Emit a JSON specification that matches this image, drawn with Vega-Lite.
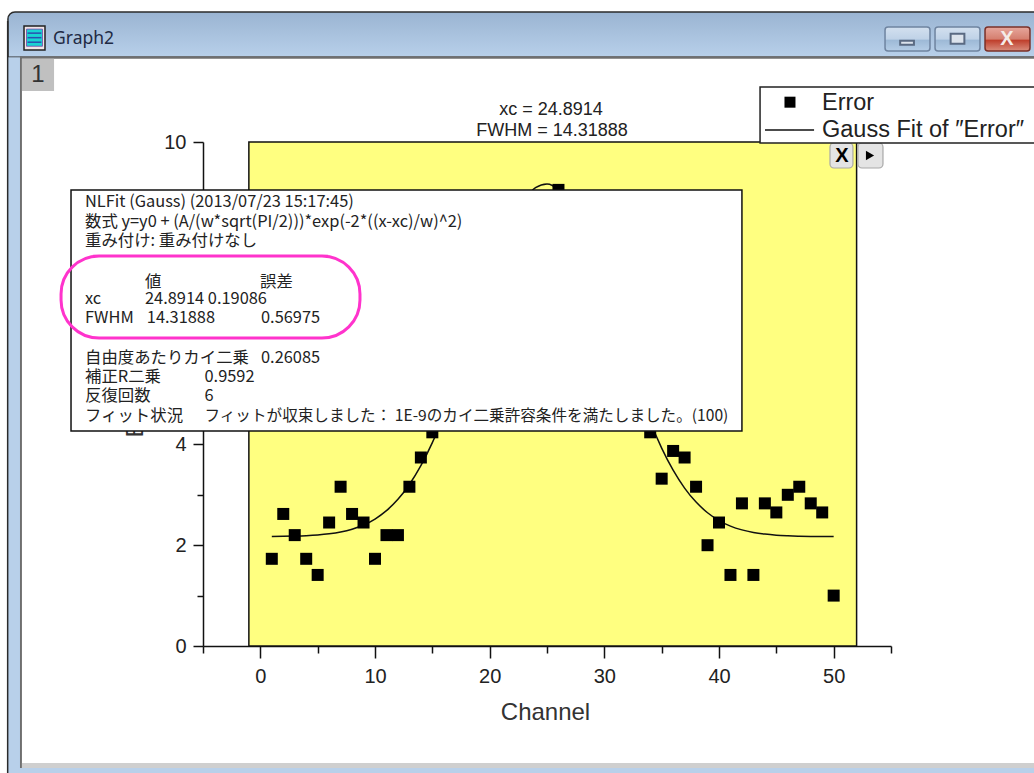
{
"$schema":"https://vega.github.io/schema/vega-lite/v6.json",
"width":688,"height":504,
"autosize":{"type":"none"},
"padding":{"left":203,"top":142,"right":143,"bottom":127},
"background":"white",
"config":{"view":{"stroke":null}},
"encoding":{
 "x":{"field":"x","type":"quantitative","scale":{"domain":[-5,55],"nice":false,"zero":false},
  "axis":{"title":"Channel","grid":false,"values":[-5,0,5,10,15,20,25,30,35,40,45,50,55],
   "labelExpr":"datum.value % 10 === 0 ? datum.label : ''","labelOverlap":false,"labelFlush":false,
   "tickSize":{"condition":{"test":"datum.value % 10 === 0","value":12},"value":7},
   "tickColor":"#111","tickWidth":1.5,"domainColor":"#111","domainWidth":1.5,
   "labelFont":"Liberation Sans","labelFontSize":20,"labelColor":"#222","labelPadding":8,
   "titleFont":"Liberation Sans","titleFontSize":24,"titleFontWeight":"normal","titleColor":"#333","titleX":342,"titleY":66,"titleBaseline":"middle"}},
 "y":{"field":"y","type":"quantitative","scale":{"domain":[0,10],"nice":false,"zero":false},
  "axis":{"title":"Error","grid":false,"values":[0,1,2,3,4,5,6,7,8,9,10],
   "labelExpr":"datum.value % 2 === 0 ? datum.label : ''","labelOverlap":false,"labelFlush":false,
   "tickSize":{"condition":{"test":"datum.value % 2 === 0","value":10},"value":6},
   "tickColor":"#111","tickWidth":1.5,"domainColor":"#111","domainWidth":1.5,
   "labelFont":"Liberation Sans","labelFontSize":20,"labelColor":"#222","labelPadding":7,
   "titleFont":"Liberation Sans","titleFontSize":24,"titleFontWeight":"normal","titleColor":"#333",
   "titleAngle":270,"titleAlign":"left","titleBaseline":"middle","titleX":-68,"titleY":295}}
},
"layer":[
 {"data":{"values":[{"x":-22.01,"x2":68,"y":12.58,"y2":11.68}]},
  "mark":{"type":"rect","stroke":"#2b2b2b","strokeWidth":1.5,"cornerRadiusTopLeft":7,
   "fill":{"gradient":"linear","x1":0,"y1":0,"x2":0,"y2":1,"stops":[{"offset":0,"color":"#9AB4D2"},{"offset":1,"color":"#B8D0EA"}]}},
  "encoding":{"x2":{"field":"x2"},"y2":{"field":"y2"}}},
 {"data":{"values":[{"x":-22.01,"x2":-20.96,"y":11.68,"y2":-2.6},{"x":-22.01,"x2":68,"y":-2.42,"y2":-2.6}]},
  "mark":{"type":"rect","fill":"#B8D0EA"},"encoding":{"x2":{"field":"x2"},"y2":{"field":"y2"}}},
 {"data":{"values":[{"x":-22.1,"x2":-21.97,"y":12.4,"y2":-2.6}]},
  "mark":{"type":"rect","fill":"#2b2b2b"},"encoding":{"x2":{"field":"x2"},"y2":{"field":"y2"}}},
 {"data":{"values":[{"x":-20.96,"x2":-20.79,"y":11.7,"y2":-2.42},{"x":-20.96,"x2":68,"y":11.7,"y2":11.65}]},
  "mark":{"type":"rect","fill":"#6f6f6f"},"encoding":{"x2":{"field":"x2"},"y2":{"field":"y2"}}},
 {"data":{"values":[{"x":-20.79,"x2":68,"y":-2.32,"y2":-2.42}]},
  "mark":{"type":"rect","fill":"#cfcfcf"},"encoding":{"x2":{"field":"x2"},"y2":{"field":"y2"}}},
 {"data":{"values":[{"x":-20.79,"x2":-17.99,"y":11.65,"y2":11.01}]},
  "mark":{"type":"rect","fill":"#C0C0C0"},"encoding":{"x2":{"field":"x2"},"y2":{"field":"y2"}}},
 {"data":{"values":[{"x":-19.39,"y":11.33,"t":"1"}]},
  "mark":{"type":"text","font":"Liberation Sans","fontSize":24,"color":"#333","align":"center","baseline":"middle"},
  "encoding":{"text":{"field":"t"}}},
 {"data":{"values":[{"x":-20.61,"x2":-18.78,"y":12.3,"y2":11.825}]},
  "mark":{"type":"rect","fill":"#efe6e6","stroke":"#222","strokeWidth":1.5},"encoding":{"x2":{"field":"x2"},"y2":{"field":"y2"}}},
 {"data":{"values":[{"x":-20.39,"x2":-19.0,"y":12.24,"y2":11.9}]},
  "mark":{"type":"rect","fill":"#19d3d3","stroke":"#7a3ea8","strokeWidth":0.8},"encoding":{"x2":{"field":"x2"},"y2":{"field":"y2"}}},
 {"data":{"values":[{"x":-20.3,"x2":-19.1,"y":12.16},{"x":-20.3,"x2":-19.1,"y":12.07},{"x":-20.3,"x2":-19.1,"y":11.98}]},
  "mark":{"type":"rule","stroke":"#2a4fb0","strokeWidth":1.5},"encoding":{"x2":{"field":"x2"}}},
 {"data":{"values":[{"x":-18.08,"y":12.04,"t":"Graph2"}]},
  "mark":{"type":"text","font":"Noto Sans","fontSize":17.5,"color":"#1f2a44","align":"left","baseline":"middle"},
  "encoding":{"text":{"field":"t"}}},
 {"data":{"values":[{"x":54.48,"x2":58.4,"y":12.28,"y2":11.805},{"x":58.84,"x2":62.76,"y":12.28,"y2":11.805}]},
  "mark":{"type":"rect","stroke":"#6f84a0","strokeWidth":1.5,"cornerRadius":3,
   "fill":{"gradient":"linear","x1":0,"y1":0,"x2":0,"y2":1,"stops":[{"offset":0,"color":"#D3E0EF"},{"offset":0.5,"color":"#BFD2E7"},{"offset":0.55,"color":"#9DB9D6"},{"offset":1,"color":"#B5CDE6"}]}},
  "encoding":{"x2":{"field":"x2"},"y2":{"field":"y2"}}},
 {"data":{"values":[{"x":63.2,"x2":67.12,"y":12.28,"y2":11.805}]},
  "mark":{"type":"rect","stroke":"#7a3028","strokeWidth":1.5,"cornerRadius":3,
   "fill":{"gradient":"linear","x1":0,"y1":0,"x2":0,"y2":1,"stops":[{"offset":0,"color":"#E6A79D"},{"offset":0.5,"color":"#D57F6F"},{"offset":0.55,"color":"#BF3F2C"},{"offset":1,"color":"#D98E7E"}]}},
  "encoding":{"x2":{"field":"x2"},"y2":{"field":"y2"}}},
 {"data":{"values":[{"x":55.8,"x2":57.0,"y":12.01,"y2":11.93},{"x":60.2,"x2":61.4,"y":12.15,"y2":11.95}]},
  "mark":{"type":"rect","fill":"#DCE3EC","stroke":"#5a6a82","strokeWidth":2},"encoding":{"x2":{"field":"x2"},"y2":{"field":"y2"}}},
 {"data":{"values":[{"x":65.12,"y":12.04,"t":"X"}]},
  "mark":{"type":"text","font":"Liberation Sans","fontSize":20,"fontWeight":"bold","color":"#F4ECE8","align":"center","baseline":"middle"},
  "encoding":{"text":{"field":"t"}}},
 {"data":{"values":[{"x":25.35,"y":10.635,"t":"xc = 24.8914"},{"x":25.44,"y":10.22,"t":"FWHM = 14.31888"}]},
  "mark":{"type":"text","font":"Liberation Sans","fontSize":18,"color":"#222","align":"center","baseline":"middle"},
  "encoding":{"text":{"field":"t"}}},
 {"data":{"values":[{"x":-1,"x2":52,"y":10,"y2":0}]},
  "mark":{"type":"rect","fill":"#FFFF80","stroke":"#111","strokeWidth":1.5},"encoding":{"x2":{"field":"x2"},"y2":{"field":"y2"}}},
 {"data":{"values":[
  {"x":1,"y":2.173},{"x":2,"y":2.176},{"x":3,"y":2.181},{"x":4,"y":2.189},{"x":5,"y":2.203},{"x":6,"y":2.226},{"x":7,"y":2.262},{"x":8,"y":2.318},{"x":9,"y":2.4},{"x":10,"y":2.519},
  {"x":11,"y":2.685},{"x":12,"y":2.91},{"x":13,"y":3.205},{"x":14,"y":3.577},{"x":15,"y":4.034},{"x":16,"y":4.574},{"x":17,"y":5.186},{"x":18,"y":5.853},{"x":19,"y":6.549},{"x":20,"y":7.236},
  {"x":21,"y":7.874},{"x":22,"y":8.422},{"x":23,"y":8.84},{"x":24,"y":9.095},{"x":25,"y":9.169},{"x":26,"y":9.054},{"x":27,"y":8.761},{"x":28,"y":8.312},{"x":29,"y":7.741},{"x":30,"y":7.087},
  {"x":31,"y":6.395},{"x":32,"y":5.703},{"x":33,"y":5.046},{"x":34,"y":4.448},{"x":35,"y":3.927},{"x":36,"y":3.488},{"x":37,"y":3.133},{"x":38,"y":2.855},{"x":39,"y":2.644},{"x":40,"y":2.489},
  {"x":41,"y":2.379},{"x":42,"y":2.304},{"x":43,"y":2.253},{"x":44,"y":2.22},{"x":45,"y":2.199},{"x":46,"y":2.187},{"x":47,"y":2.179},{"x":48,"y":2.175},{"x":49,"y":2.173},{"x":50,"y":2.171}]},
  "mark":{"type":"line","stroke":"#111","strokeWidth":1.5,"interpolate":"monotone"}},
 {"data":{"values":[
  {"x":1,"y":1.73},{"x":2,"y":2.62},{"x":3,"y":2.2},{"x":4,"y":1.73},{"x":5,"y":1.41},{"x":6,"y":2.45},{"x":7,"y":3.16},{"x":8,"y":2.62},{"x":9,"y":2.45},{"x":10,"y":1.73},
  {"x":11,"y":2.2},{"x":12,"y":2.2},{"x":13,"y":3.16},{"x":14,"y":3.74},{"x":15,"y":4.24},{"x":16,"y":4.8},{"x":17,"y":5.2},{"x":18,"y":5.8},{"x":19,"y":6.6},{"x":20,"y":7.3},
  {"x":21,"y":7.7},{"x":22,"y":8.2},{"x":23,"y":8.5},{"x":24,"y":8.6},{"x":25,"y":8.6},{"x":26,"y":9.05},{"x":27,"y":8.5},{"x":28,"y":8.2},{"x":29,"y":7.7},{"x":30,"y":7.1},
  {"x":31,"y":6.4},{"x":32,"y":5.7},{"x":33,"y":5.0},{"x":34,"y":4.24},{"x":35,"y":3.32},{"x":36,"y":3.87},{"x":37,"y":3.74},{"x":38,"y":3.16},{"x":39,"y":2.0},{"x":40,"y":2.45},
  {"x":41,"y":1.41},{"x":42,"y":2.83},{"x":43,"y":1.41},{"x":44,"y":2.83},{"x":45,"y":2.65},{"x":46,"y":3.0},{"x":47,"y":3.16},{"x":48,"y":2.83},{"x":49,"y":2.65},{"x":50,"y":1.0}]},
  "mark":{"type":"point","shape":"square","filled":true,"size":144,"color":"#000","opacity":1}},
 {"data":{"values":[{"x":-16.51,"x2":42,"y":9.048,"y2":4.266}]},
  "mark":{"type":"rect","fill":"white","stroke":"#111","strokeWidth":1.5},"encoding":{"x2":{"field":"x2"},"y2":{"field":"y2"}}},
 {"data":{"values":[
  {"x":-15.29,"y":8.81,"t":"NLFit (Gauss) (2013/07/23 15:17:45)"},
  {"x":-15.29,"y":8.41,"t":"数式 y=y0 + (A/(w*sqrt(PI/2)))*exp(-2*((x-xc)/w)^2)"},
  {"x":-15.29,"y":8.03,"t":"重み付け: 重み付けなし"},
  {"x":-10.06,"y":7.22,"t":"値"},
  {"x":-0.03,"y":7.22,"t":"誤差"},
  {"x":-15.29,"y":6.885,"t":"xc"},
  {"x":-10.06,"y":6.885,"t":"24.8914 0.19086"},
  {"x":-15.29,"y":6.51,"t":"FWHM"},
  {"x":-9.9,"y":6.51,"t":"14.31888"},
  {"x":0.06,"y":6.51,"t":"0.56975"},
  {"x":-15.29,"y":5.71,"t":"自由度あたりカイ二乗"},
  {"x":0.06,"y":5.71,"t":"0.26085"},
  {"x":-15.29,"y":5.34,"t":"補正R二乗"},
  {"x":-4.87,"y":5.34,"t":"0.9592"},
  {"x":-15.29,"y":4.96,"t":"反復回数"},
  {"x":-4.87,"y":4.96,"t":"6"},
  {"x":-15.29,"y":4.56,"t":"フィット状況"}]},
  "mark":{"type":"text","font":"Noto Sans CJK JP","fontSize":16.4,"color":"#222","align":"left","baseline":"middle"},
  "encoding":{"text":{"field":"t"}}},
 {"data":{"values":[{"x":-4.87,"y":4.56,"t":"フィットが収束しました： 1E-9のカイ二乗許容条件を満たしました。(100)"}]},
  "mark":{"type":"text","font":"Noto Sans CJK JP","fontSize":15.6,"color":"#222","align":"left","baseline":"middle"},
  "encoding":{"text":{"field":"t"}}},
 {"data":{"values":[{"x":-17.38,"x2":8.69,"y":7.738,"y2":6.111}]},
  "mark":{"type":"rect","fillOpacity":0,"stroke":"#FF33CC","strokeWidth":3,"cornerRadius":38},"encoding":{"x2":{"field":"x2"},"y2":{"field":"y2"}}},
 {"data":{"values":[{"x":49.68,"x2":51.68,"y":9.98,"y2":9.484},{"x":52.12,"x2":54.3,"y":9.98,"y2":9.484}]},
  "mark":{"type":"rect","fill":"#E4E4E4","stroke":"#a8a8a8","strokeWidth":1.2,"cornerRadius":4},"encoding":{"x2":{"field":"x2"},"y2":{"field":"y2"}}},
 {"data":{"values":[{"x":50.72,"y":9.73,"t":"X"}]},
  "mark":{"type":"text","font":"Liberation Sans","fontSize":20,"fontWeight":"bold","color":"#000","align":"center","baseline":"middle"},
  "encoding":{"text":{"field":"t"}}},
 {"data":{"values":[{"x":53.17,"y":9.73}]},
  "mark":{"type":"point","shape":"triangle-right","filled":true,"size":90,"color":"#000","opacity":1}},
 {"data":{"values":[{"x":43.58,"x2":68,"y":11.09,"y2":9.98}]},
  "mark":{"type":"rect","fill":"white","stroke":"#222","strokeWidth":1.5},"encoding":{"x2":{"field":"x2"},"y2":{"field":"y2"}}},
 {"data":{"values":[{"x":46.19,"y":10.79}]},
  "mark":{"type":"point","shape":"square","filled":true,"size":121,"color":"#000","opacity":1}},
 {"data":{"values":[{"x":44.01,"x2":48.29,"y":10.24}]},
  "mark":{"type":"rule","stroke":"#111","strokeWidth":1.5},"encoding":{"x2":{"field":"x2"}}},
 {"data":{"values":[{"x":48.98,"y":10.77,"t":"Error"},{"x":48.98,"y":10.24,"t":"Gauss Fit of ″Error″"}]},
  "mark":{"type":"text","font":"Liberation Sans","fontSize":23.5,"color":"#222","align":"left","baseline":"middle"},
  "encoding":{"text":{"field":"t"}}}
]
}
